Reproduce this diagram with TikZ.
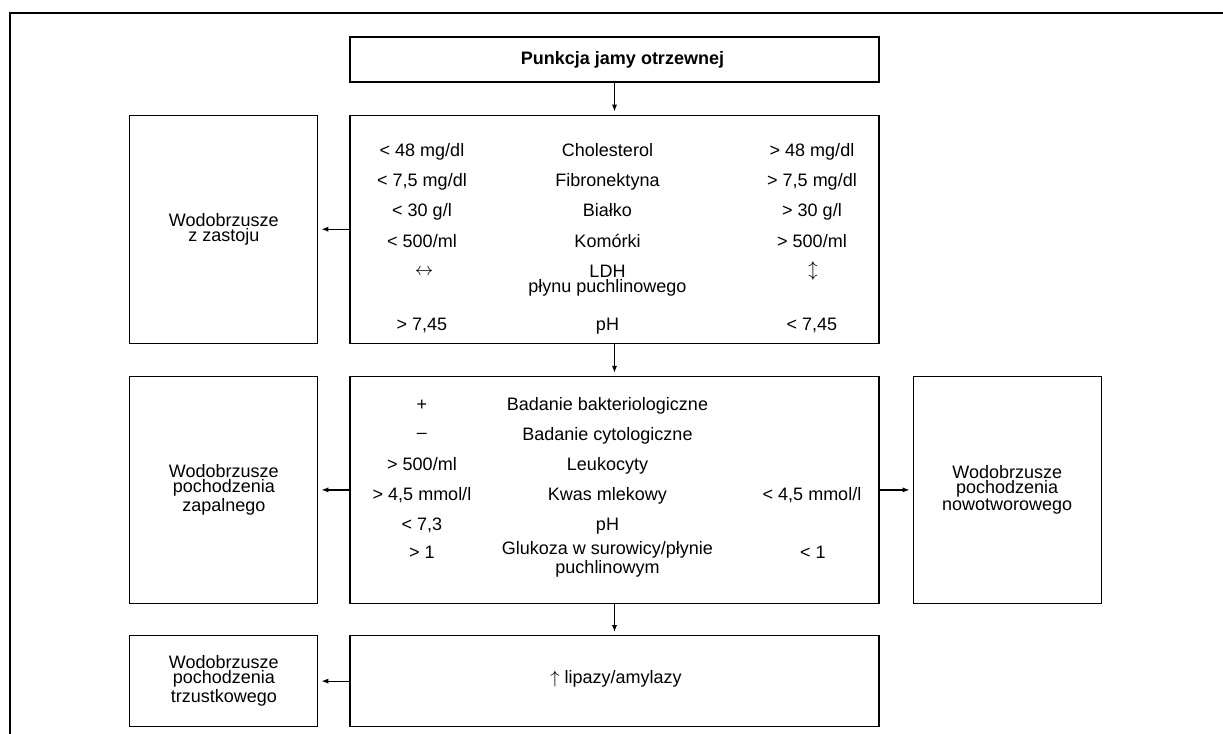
\documentclass[tikz,border=0pt]{standalone}
\usepackage{fontspec}
\setmainfont{Liberation Sans}
\usepackage{tikz}
\usetikzlibrary{positioning, arrows.meta}

\begin{document}
\begin{tikzpicture}[x=0.5pt, y=-0.5pt,
box/.style={draw, line width=0.6pt, align=center, inner sep=0pt,
  font=\fontsize{9}{7.6}\selectfont},
txt/.style={anchor=base, align=center, inner sep=0pt,
  font=\fontsize{9}{7.5}\selectfont},
arr/.style={-{Latex[length=3.5pt,width=2.6pt]}, line width=0.6pt, shorten >=1.5pt}]
\useasboundingbox (0,0) rectangle (1223,734);
\draw [line width=0.75pt] (10,734) |- (1223,13);

\node (A) [box, minimum width=264.5pt, minimum height=22.5pt] at (614.5,59.5)
  {\hspace*{8pt}\textbf{Punkcja jamy otrzewnej}};
\node (B) [box, below=16pt of A, minimum width=264.5pt, minimum height=114pt] {};
\node (C) [box, left=15.5pt of B, minimum width=94pt, minimum height=114pt]
  {Wodobrzusze\\z zastoju};
\node (D) [box, below=16pt of B, minimum width=264.5pt, minimum height=113.5pt] {};
\node (E) [box, left=15.5pt of D, minimum width=94pt, minimum height=113.5pt]
  {Wodobrzusze\\pochodzenia\\zapalnego};
\node (F) [box, right=16.5pt of D, minimum width=94pt, minimum height=113.5pt]
  {Wodobrzusze\\pochodzenia\\nowotworowego};
\node (G) [box, below=15.5pt of D, minimum width=264.5pt, minimum height=45.5pt] {};
\node (H) [box, left=15.5pt of G, minimum width=94pt, minimum height=45.5pt]
  {Wodobrzusze\\pochodzenia\\trzustkowego};

% wartosci w ramce B
\node (b1) [txt] at (422,156) {< 48 mg/dl};
\node (b2) [txt] at (607.5,156) {Cholesterol};
\node (b3) [txt] at (812,156) {> 48 mg/dl};
\node (b4) [txt] at (422,186) {< 7,5 mg/dl};
\node (b5) [txt] at (607.5,186) {Fibronektyna};
\node (b6) [txt] at (812,186) {> 7,5 mg/dl};
\node (b7) [txt] at (422,216) {< 30 g/l};
\node (b8) [txt] at (607.5,216) {Białko};
\node (b9) [txt] at (812,216) {> 30 g/l};
\node (b10) [txt] at (422,247) {< 500/ml};
\node (b11) [txt] at (607.5,247) {Komórki};
\node (b12) [txt] at (812,247) {> 500/ml};
\node (b13) [txt, anchor=center] at (424,272) {$\leftrightarrow$};
\node (b14) [txt] at (607.5,292) {LDH\\płynu puchlinowego};
\node (b15) [txt, anchor=center] at (813,271) {$\updownarrow$};
\node (b16) [txt] at (422,330) {> 7,45};
\node (b17) [txt] at (607.5,330) {pH};
\node (b18) [txt] at (812,330) {< 7,45};

% wartosci w ramce D
\node (d1) [txt] at (422,410) {+};
\node (d2) [txt] at (607.5,410) {Badanie bakteriologiczne};
\node (d3) [txt] at (422,438) {–};
\node (d4) [txt] at (607.5,440) {Badanie cytologiczne};
\node (d5) [txt] at (422,470) {> 500/ml};
\node (d6) [txt] at (607.5,470) {Leukocyty};
\node (d7) [txt] at (422,500) {> 4,5 mmol/l};
\node (d8) [txt] at (607.5,500) {Kwas mlekowy};
\node (d9) [txt] at (812,500) {< 4,5 mmol/l};
\node (d10) [txt] at (422,530) {< 7,3};
\node (d11) [txt] at (607.5,530) {pH};
\node (d12) [txt] at (422,558) {> 1};
\node (d13) [txt] at (607.5,573) {Glukoza w surowicy/płynie\\puchlinowym};
\node (d14) [txt] at (813,558) {< 1};

\node (g1) [txt] at (616,683) {$\uparrow$ lipazy/amylazy};

\draw [arr] (A) edge (B) (B) edge (C) (B) edge (D) (D) edge (E)
  (D) edge (F) (D) edge (G) (G) edge (H);
\end{tikzpicture}
\end{document}
